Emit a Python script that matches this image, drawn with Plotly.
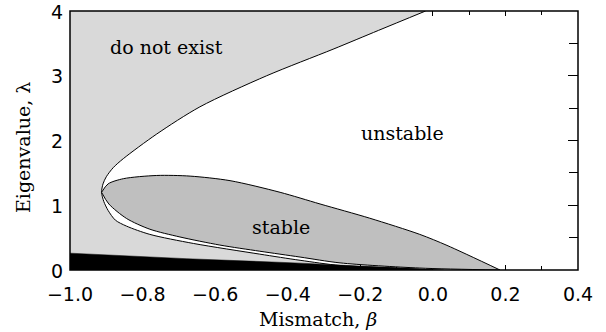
import plotly.graph_objects as go

# ---- axes ----
x_range = [-1.0, 0.4]
y_range = [0.0, 4.0]
x_ticks = [-1.0, -0.8, -0.6, -0.4, -0.2, 0.0, 0.2, 0.4]
x_ticktext = ["−1.0", "−0.8", "−0.6", "−0.4", "−0.2", "0.0", "0.2", "0.4"]
y_ticks = [0, 1, 2, 3, 4]
y_ticktext = ["0", "1", "2", "3", "4"]

# ---- existence boundary (ordered by eigenvalue, lower branch -> tip -> upper branch) ----
exist_beta = [0.00, -0.10, -0.256, -0.366, -0.477, -0.660, -0.780, -0.844, -0.875,
              -0.895, -0.907, -0.913, -0.909, -0.900, -0.881, -0.853, -0.761, -0.642,
              -0.458, -0.275, -0.150, -0.02]
exist_lam = [0.00, 0.03, 0.07, 0.15, 0.245, 0.41, 0.55, 0.677, 0.77,
             0.92, 1.06, 1.20, 1.33, 1.44, 1.58, 1.72, 2.10, 2.52,
             3.00, 3.41, 3.70, 4.00]

# ---- stable region ----
stab_up_beta = [-0.913, -0.895, -0.853, -0.761, -0.669, -0.559, -0.421, -0.311,
                -0.174, -0.036, 0.039, 0.185]
stab_up_lam = [1.20, 1.33, 1.41, 1.46, 1.45, 1.38, 1.20, 1.02,
               0.80, 0.55, 0.38, 0.00]
stab_lo_beta = [-0.913, -0.893, -0.844, -0.780, -0.697, -0.587, -0.477, -0.366,
                -0.256, -0.036, 0.185]
stab_lo_lam = [1.20, 1.02, 0.795, 0.63, 0.51, 0.385, 0.29, 0.20,
               0.11, 0.03, 0.00]

# ---- black wedge ----
black_beta = [-1.0, -0.68, -0.38, -0.2, 0.03]
black_lam = [0.26, 0.175, 0.11, 0.06, 0.0]

serif = "DejaVu Serif"
sans = "DejaVu Sans"
curve = dict(color="black", width=1, shape="spline", smoothing=0.8)

fig = go.Figure()
# left edge helper for the "do not exist" fill
fig.add_trace(go.Scatter(x=[x_range[0], x_range[0]], y=[y_range[0], y_range[1]],
                         mode="lines", line=dict(width=0, color="rgba(0,0,0,0)"),
                         hoverinfo="skip", showlegend=False))
fig.add_trace(go.Scatter(x=exist_beta, y=exist_lam, mode="lines", fill="tonextx",
                         fillcolor="#d9d9d9", line=curve,
                         hoverinfo="skip", showlegend=False))
fig.add_trace(go.Scatter(x=stab_lo_beta, y=stab_lo_lam, mode="lines", line=curve,
                         hoverinfo="skip", showlegend=False))
fig.add_trace(go.Scatter(x=stab_up_beta, y=stab_up_lam, mode="lines", fill="tonexty",
                         fillcolor="#bfbfbf", line=curve,
                         hoverinfo="skip", showlegend=False))
fig.add_trace(go.Scatter(x=black_beta, y=black_lam, mode="lines", fill="tozeroy",
                         fillcolor="black", line=dict(color="black", width=0.5),
                         hoverinfo="skip", showlegend=False))

fig.update_layout(
    width=606, height=332,
    margin=dict(l=70, r=28, t=11, b=62),
    paper_bgcolor="white", plot_bgcolor="white",
    showlegend=False,
    xaxis=dict(range=x_range, tickvals=x_ticks, ticktext=x_ticktext,
               ticks="inside", ticklen=5, tickwidth=1, tickcolor="black",
               mirror="ticks", showgrid=False, zeroline=False, showline=False,
               layer="below traces", automargin=False,
               minor=dict(dtick=0.1, ticks="inside", ticklen=4, tickcolor="black", showgrid=False),
               tickfont=dict(family=sans, size=19, color="black"),
               ticklabelstandoff=11),
    yaxis=dict(range=y_range, tickvals=y_ticks, ticktext=y_ticktext,
               ticks="inside", ticklen=10, tickwidth=1, tickcolor="black",
               mirror="ticks", showgrid=False, zeroline=False, showline=False,
               layer="below traces", automargin=False,
               minor=dict(dtick=0.5, ticks="inside", ticklen=9, tickcolor="black", showgrid=False),
               tickfont=dict(family=sans, size=19, color="black"),
               ticklabelstandoff=6, ticklabelshift=1, ticklabeloverflow="allow"),
    shapes=[dict(type="rect", xref="paper", yref="paper", x0=0, x1=1, y0=0, y1=1,
                 line=dict(color="black", width=1.5), layer="above")],
    annotations=[
        dict(text="do not exist", x=-0.733, y=3.45, xref="x", yref="y", showarrow=False,
             font=dict(family=serif, size=19, color="black")),
        dict(text="unstable", x=-0.083, y=2.11, xref="x", yref="y", showarrow=False,
             font=dict(family=serif, size=19, color="black")),
        dict(text="stable", x=-0.419, y=0.66, xref="x", yref="y", showarrow=False,
             font=dict(family=serif, size=19, color="black")),
        dict(text="Eigenvalue, λ", x=-0.0925, y=0.471, xref="paper", yref="paper",
             showarrow=False, textangle=-90, xanchor="center", yanchor="middle",
             font=dict(family=serif, size=19, color="black")),
        dict(text="Mismatch, <i>β</i>", x=0.488, y=-0.19, xref="paper", yref="paper",
             showarrow=False, xanchor="center", yanchor="middle",
             font=dict(family=serif, size=19, color="black")),
    ],
)

fig.write_html("out.html")
